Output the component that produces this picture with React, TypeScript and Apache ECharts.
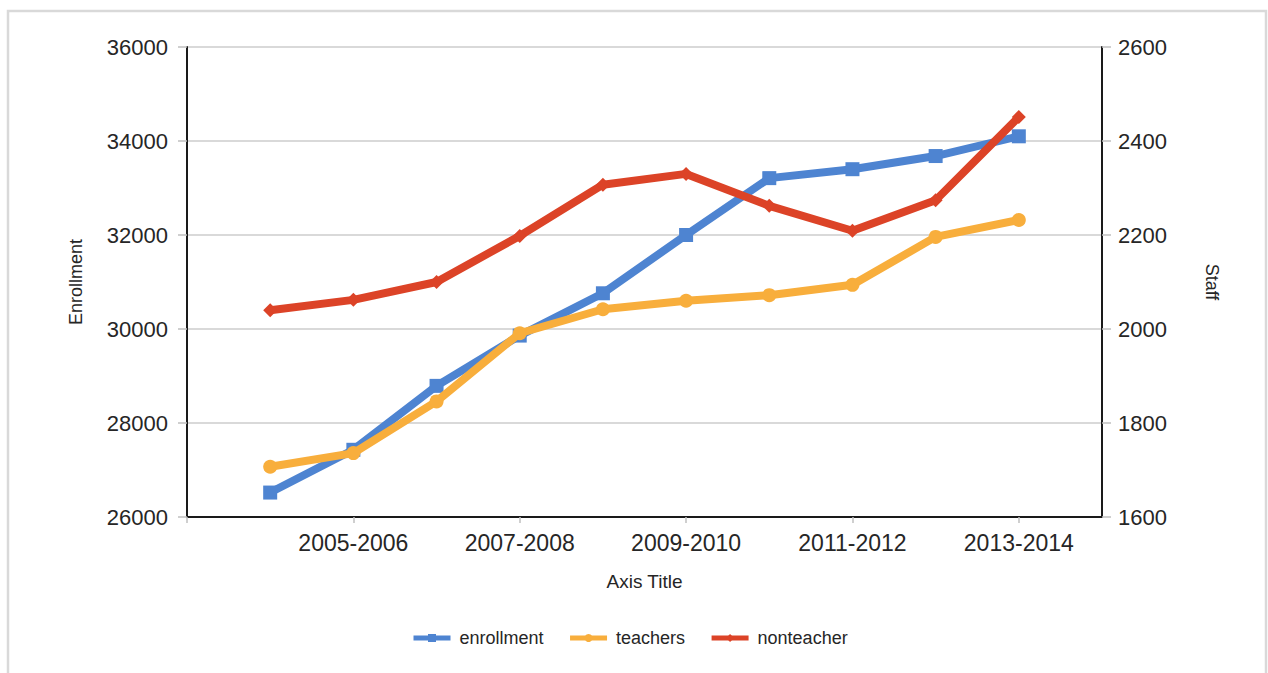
import React, { useEffect, useRef } from "react";
import * as echarts from "echarts";

const categories = ["", "2004-2005", "2005-2006", "2006-2007", "2007-2008", "2008-2009", "2009-2010", "2010-2011", "2011-2012", "2012-2013", "2013-2014", ""];
const enrollment = [null, 26520, 27430, 28790, 29860, 30760, 32000, 33210, 33400, 33680, 34100, null];
const teachers = [null, 1707, 1736, 1846, 1991, 2042, 2060, 2072, 2094, 2196, 2232, null];
const nonteacher = [null, 2040, 2062, 2100, 2198, 2307, 2330, 2262, 2209, 2274, 2451, null];
const leftTicks = { min: 26000, max: 36000, interval: 2000 };
const rightTicks = { min: 1600, max: 2600, interval: 200 };

const FONT = "'Liberation Sans', Arial, sans-serif";
const TXT = "#262626";
const plain = (v: number) => String(v);

export default function App() {
  const ref = useRef<HTMLDivElement>(null);
  useEffect(() => {
    if (!ref.current) return;
    const chart = echarts.init(ref.current, null, { renderer: "svg" });
    chart.setOption({
      animation: false,
      backgroundColor: "#ffffff",
      textStyle: { fontFamily: FONT },
      graphic: [
        {
          type: "rect",
          shape: { x: 8, y: 11, width: 1258, height: 700 },
          style: { fill: "none", stroke: "#d9d9d9", lineWidth: 2.5 },
          silent: true,
        },
      ],
      grid: { left: 187, right: 166, top: 47, bottom: 156, containLabel: false },
      legend: {
        bottom: 21,
        left: 406,
        itemWidth: 37,
        itemHeight: 10,
        itemGap: 24,
        lineStyle: { width: 5 },
        textStyle: { fontFamily: FONT, fontSize: 18, color: TXT, padding: [0, 0, 0, 4] },
        data: ["enrollment", "teachers", "nonteacher"],
      },
      xAxis: {
        type: "category",
        data: categories,
        boundaryGap: false,
        name: "Axis Title",
        nameLocation: "middle",
        nameGap: 55,
        nameTextStyle: { fontFamily: FONT, fontSize: 19, color: TXT },
        axisLine: { lineStyle: { color: "#1a1a1a", width: 2 } },
        axisTick: { show: true, interval: 1, length: 6, lineStyle: { color: "#bfbfbf", width: 1.5 } },
        axisLabel: { interval: 1, fontFamily: FONT, fontSize: 23, color: TXT, margin: 14 },
        splitLine: { show: false },
      },
      yAxis: [
        {
          type: "value",
          position: "left",
          ...leftTicks,
          name: "Enrollment",
          nameLocation: "middle",
          nameGap: 102,
          nameRotate: 90,
          nameTextStyle: { fontFamily: FONT, fontSize: 18, color: TXT },
          axisLine: { show: true, lineStyle: { color: "#1a1a1a", width: 2 } },
          axisTick: { show: true, length: 9, lineStyle: { color: "#bfbfbf", width: 1.5 } },
          axisLabel: { fontFamily: FONT, fontSize: 22, color: TXT, margin: 19, formatter: plain },
          splitLine: { show: true, lineStyle: { color: "#d9d9d9", width: 2 } },
        },
        {
          type: "value",
          position: "right",
          ...rightTicks,
          name: "Staff",
          nameLocation: "middle",
          nameGap: 101,
          nameRotate: -90,
          nameTextStyle: { fontFamily: FONT, fontSize: 18, color: TXT },
          axisLine: { show: true, lineStyle: { color: "#1a1a1a", width: 2 } },
          axisTick: { show: true, length: 9, lineStyle: { color: "#bfbfbf", width: 1.5 } },
          axisLabel: { fontFamily: FONT, fontSize: 22, color: TXT, margin: 16, formatter: plain },
          splitLine: { show: false },
        },
      ],
      series: [
        {
          name: "enrollment",
          type: "line",
          yAxisIndex: 0,
          data: enrollment,
          color: "#4e84d1",
          lineStyle: { width: 8, color: "#4e84d1" },
          symbol: "rect",
          symbolSize: 14,
          itemStyle: { color: "#4e84d1" },
          z: 2,
        },
        {
          name: "teachers",
          type: "line",
          yAxisIndex: 1,
          data: teachers,
          color: "#f8ae3c",
          lineStyle: { width: 8, color: "#f8ae3c" },
          symbol: "circle",
          symbolSize: 14,
          itemStyle: { color: "#f8ae3c" },
          z: 3,
        },
        {
          name: "nonteacher",
          type: "line",
          yAxisIndex: 1,
          data: nonteacher,
          color: "#dc4327",
          lineStyle: { width: 8, color: "#dc4327" },
          symbol: "diamond",
          symbolSize: 14,
          itemStyle: { color: "#dc4327" },
          z: 4,
        },
      ],
    });
    return () => chart.dispose();
  }, []);
  return (
    <div
      ref={ref}
      style={{ position: "fixed", left: 0, top: 0, width: 1268, height: 673 }}
    />
  );
}
